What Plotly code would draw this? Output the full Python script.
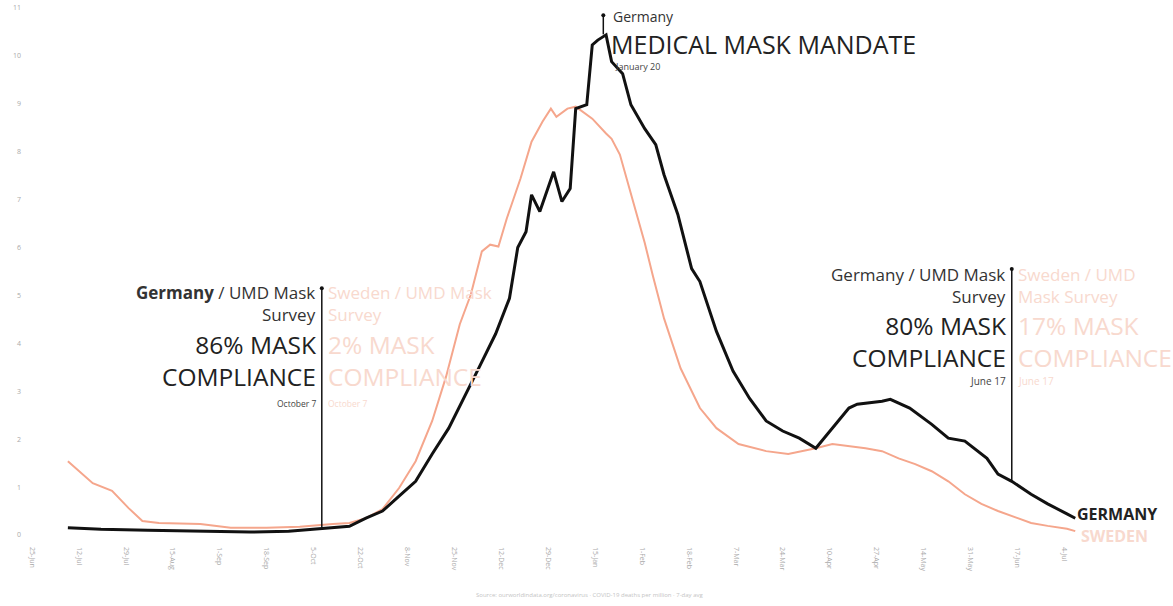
import plotly.graph_objects as go

# ---- data (daily COVID-19 deaths per million, 7-day avg) ----
germany_dates = ["2020-07-08","2020-07-20","2020-08-06","2020-08-25","2020-09-12","2020-09-26",
    "2020-10-08","2020-10-18","2020-10-24","2020-10-30","2020-11-05","2020-11-11","2020-11-17",
    "2020-11-23","2020-12-04","2020-12-10","2020-12-15","2020-12-18","2020-12-21","2020-12-23",
    "2020-12-26","2020-12-31","2021-01-03","2021-01-06","2021-01-08","2021-01-12","2021-01-14",
    "2021-01-16","2021-01-19","2021-01-21","2021-01-25","2021-01-28","2021-02-02","2021-02-06",
    "2021-02-09","2021-02-14","2021-02-19","2021-02-22","2021-02-28","2021-03-06","2021-03-12",
    "2021-03-18","2021-03-24","2021-03-30","2021-04-05","2021-04-11","2021-04-17","2021-04-20",
    "2021-04-29","2021-05-02","2021-05-09","2021-05-17","2021-05-23","2021-05-29","2021-06-06",
    "2021-06-10","2021-06-15","2021-06-22","2021-06-28","2021-07-05","2021-07-08"]
germany_values = [0.15,0.12,0.10,0.08,0.06,0.08,
    0.13,0.18,0.35,0.50,0.81,1.12,1.69,
    2.23,3.50,4.20,4.94,6.00,6.33,7.10,
    6.75,7.58,6.96,7.23,8.90,8.98,10.23,
    10.33,10.44,9.88,9.63,8.98,8.48,8.15,
    7.52,6.69,5.56,5.29,4.25,3.42,2.85,
    2.38,2.17,2.02,1.81,2.23,2.65,2.73,
    2.79,2.83,2.65,2.31,2.02,1.96,1.60,
    1.27,1.12,0.85,0.65,0.44,0.35]

sweden_dates = ["2020-07-08","2020-07-17","2020-07-24","2020-07-30","2020-08-04","2020-08-10",
    "2020-08-25","2020-09-05","2020-09-18","2020-09-30","2020-10-12","2020-10-18","2020-10-24",
    "2020-10-30","2020-11-05","2020-11-11","2020-11-17","2020-11-22","2020-11-27","2020-12-01",
    "2020-12-05","2020-12-08","2020-12-11","2020-12-14","2020-12-19","2020-12-23","2020-12-27",
    "2020-12-30","2021-01-01","2021-01-05","2021-01-08","2021-01-12","2021-01-14","2021-01-19",
    "2021-01-21","2021-01-24","2021-01-28","2021-02-02","2021-02-05","2021-02-09","2021-02-15",
    "2021-02-22","2021-02-28","2021-03-08","2021-03-18","2021-03-26","2021-04-05","2021-04-11",
    "2021-04-23","2021-04-29","2021-05-05","2021-05-11","2021-05-17","2021-05-23","2021-05-29",
    "2021-06-04","2021-06-10","2021-06-17","2021-06-22","2021-06-28","2021-07-05","2021-07-08"]
sweden_values = [1.54,1.08,0.92,0.56,0.29,0.25,
    0.23,0.15,0.15,0.17,0.23,0.25,0.35,
    0.54,0.98,1.54,2.38,3.30,4.40,5.02,
    5.92,6.06,6.02,6.60,7.44,8.21,8.63,
    8.90,8.73,8.90,8.94,8.77,8.69,8.38,
    8.27,7.94,7.10,6.10,5.40,4.52,3.48,
    2.65,2.23,1.90,1.75,1.69,1.81,1.90,
    1.81,1.75,1.60,1.48,1.33,1.12,0.85,
    0.65,0.50,0.35,0.25,0.19,0.13,0.08]

y_ticks = list(range(0, 12))
x_tick_dates = ["2020-06-25","2020-07-12","2020-07-29","2020-08-15","2020-09-01","2020-09-18",
    "2020-10-05","2020-10-22","2020-11-08","2020-11-25","2020-12-12","2020-12-29","2021-01-15",
    "2021-02-01","2021-02-18","2021-03-07","2021-03-24","2021-04-10","2021-04-27","2021-05-14",
    "2021-05-31","2021-06-17","2021-07-04"]
x_tick_labels = ["25-Jun","12-Jul","29-Jul","15-Aug","1-Sep","18-Sep","5-Oct","22-Oct","8-Nov",
    "25-Nov","12-Dec","29-Dec","15-Jan","1-Feb","18-Feb","7-Mar","24-Mar","10-Apr","27-Apr",
    "14-May","31-May","17-Jun","4-Jul"]

GER = "#111111"
SWE_LINE = "#f5a68c"
SWE_TEXT = "#f8d9ce"
FONT = "Open Sans"
SMALL, BIG = 17, 24.5

fig = go.Figure()
fig.add_trace(go.Scatter(x=sweden_dates, y=sweden_values, mode="lines",
                         line=dict(color=SWE_LINE, width=2), name="Sweden", hoverinfo="skip"))
fig.add_trace(go.Scatter(x=germany_dates, y=germany_values, mode="lines",
                         line=dict(color=GER, width=3), name="Germany", hoverinfo="skip"))

# event lines with dot on top
events = [("2020-10-08", 0.15, 5.15), ("2021-06-15", 1.1, 5.55), ("2021-01-18", 10.45, 10.85)]
for d, y0, y1 in events:
    fig.add_shape(type="line", xref="x", yref="y", x0=d, x1=d, y0=y0, y1=y1,
                  line=dict(color=GER, width=1.5))
fig.add_trace(go.Scatter(x=[e[0] for e in events], y=[e[2] for e in events], mode="markers",
                         marker=dict(color=GER, size=4), hoverinfo="skip", showlegend=False))

def ann(x, y, text, size, color, anchor, shift, bold=False):
    fig.add_annotation(x=x, y=y, xref="x", yref="y", text=(f"<b>{text}</b>" if bold else text),
                       showarrow=False, xanchor=anchor, yanchor="middle", xshift=shift,
                       align=anchor if anchor in ("left", "right") else "center",
                       font=dict(family=FONT, size=size, color=color))

# left block
lx = "2020-10-08"
ann(lx, 4.84, "<b>Germany</b> / UMD Mask<br>Survey", SMALL, "#333", "right", -4)
ann(lx, 3.65, "86% MASK<br>COMPLIANCE", BIG, "#222", "right", -4)
ann(lx, 2.75, "October 7", 8.5, "#444", "right", -4)
ann(lx, 4.84, "Sweden / UMD Mask<br>Survey", SMALL, SWE_TEXT, "left", 4)
ann(lx, 3.65, "2% MASK<br>COMPLIANCE", BIG, SWE_TEXT, "left", 4)
ann(lx, 2.75, "October 7", 8.5, SWE_TEXT, "left", 4)

# right block
rx = "2021-06-15"
ann(rx, 5.20, "Germany / UMD Mask<br>Survey", SMALL, "#333", "right", -4)
ann(rx, 4.03, "80% MASK<br>COMPLIANCE", BIG, "#222", "right", -4)
ann(rx, 3.21, "June 17", 10, "#444", "right", -4)
ann(rx, 5.20, "Sweden / UMD<br>Mask Survey", SMALL, SWE_TEXT, "left", 4)
ann(rx, 4.03, "17% MASK<br>COMPLIANCE", BIG, SWE_TEXT, "left", 4)
ann(rx, 3.21, "June 17", 10, SWE_TEXT, "left", 4)

# top block
tx = "2021-01-18"
ann(tx, 10.82, "Germany", 14, "#333", "left", 8)
ann(tx, 10.25, "MEDICAL MASK MANDATE", 25, "#222", "left", 6)
ann(tx, 9.78, "January 20", 9, "#444", "left", 10)

# end labels
ann(germany_dates[-1], 0.44, "GERMANY", 16, "#222", "left", 0, bold=True)
ann(sweden_dates[-1], -0.02, "SWEDEN", 16, SWE_TEXT, "left", 4, bold=True)

fig.add_annotation(x=0.493, y=-0.09, xref="paper", yref="paper", yanchor="middle",
                   text="Source: ourworldindata.org/coronavirus · COVID-19 deaths per million · 7-day avg",
                   showarrow=False, font=dict(family=FONT, size=6, color="#c4c4c4"))

fig.update_layout(
    width=1173, height=606,
    margin=dict(l=22, r=0, t=0, b=60),
    paper_bgcolor="white", plot_bgcolor="white",
    showlegend=False,
    font=dict(family=FONT),
)
fig.update_xaxes(
    range=["2020-06-21 09:00", "2021-08-12 10:00"],
    tickvals=x_tick_dates, ticktext=x_tick_labels, tickangle=90,
    tickfont=dict(size=7, color="#aaaaaa"),
    showgrid=False, zeroline=False, showline=False, ticks="", automargin=False,
)
fig.update_yaxes(
    range=[-0.23, 11.167],
    tickvals=y_ticks,
    tickfont=dict(size=7, color="#aaaaaa"),
    showgrid=False, zeroline=False, showline=False, ticks="", automargin=False,
)

# remove the browser's default 8px body margin so the figure fills the window exactly
fig.write_html("out.html", config={"displayModeBar": False},
               post_script="document.body.style.margin='0';document.body.style.overflow='hidden';")
